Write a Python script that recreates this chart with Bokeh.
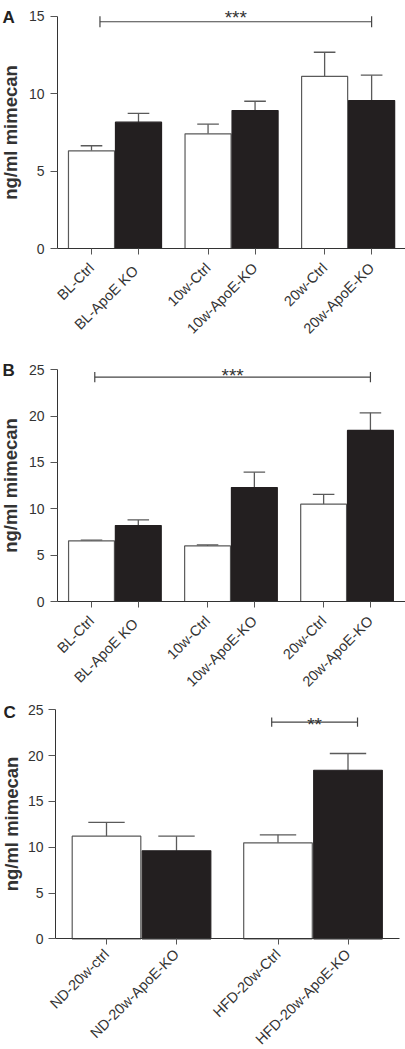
import math
from bokeh.plotting import figure
from bokeh.layouts import column
from bokeh.models import Range1d, FixedTicker, CustomJSTickFormatter, Label
from bokeh.embed import file_html
from bokeh.resources import INLINE

# ---------------- data ----------------
cats_A = ["BL-Ctrl", "BL-ApoE  KO", "10w-Ctrl", "10w-ApoE-KO", "20w-Ctrl", "20w-ApoE-KO"]
mean_A = [6.3, 8.15, 7.4, 8.9, 11.1, 9.55]
sem_A = [0.33, 0.57, 0.62, 0.6, 1.56, 1.63]

cats_B = ["BL-Ctrl", "BL-ApoE  KO", "10w-Ctrl", "10w-ApoE-KO", "20w-Ctrl", "20w-ApoE-KO"]
mean_B = [6.55, 8.2, 6.0, 12.3, 10.5, 18.45]
sem_B = [0.07, 0.6, 0.1, 1.65, 1.05, 1.9]

cats_C = ["ND-20w-ctrl", "ND-20w-ApoE-KO", "HFD-20w-Ctrl", "HFD-20w-ApoE-KO"]
mean_C = [11.2, 9.6, 10.48, 18.4]
sem_C = [1.5, 1.6, 0.87, 1.83]

yticks_A = [0, 5, 10, 15]
yticks_B = [0, 5, 10, 15, 20, 25]
yticks_C = [0, 5, 10, 15, 20, 25]

sig_A = "***"
sig_B = "***"
sig_C = "**"

FONT = "Liberation Sans"
TXT = "#333333"
DARK = "#231f20"
EDGE = "#5a5a5a"
W = 405


def panel(letter, cats, means, sems, yticks, height, ux, c0, axis_px, xend_px, uy,
          zero_px, step, cap, sig, sig_i, sig_j, sig_dx0, sig_dx1, sig_y, sig_cap,
          star_y, letter_dx, letter_dy, ylab_standoff, ytick_standoff, xlab_standoff):
    # ranges chosen so that the whole canvas is the plotting frame
    xs = -c0 / ux
    xe = (W - c0) / ux
    ys = -(height - zero_px) / uy
    ye = zero_px / uy
    yaxis_at = (axis_px - c0) / ux
    xaxis_end = (xend_px - c0) / ux

    p = figure(width=W, height=height, output_backend="svg", toolbar_location=None,
               x_range=Range1d(xs, xe), y_range=Range1d(ys, ye),
               min_border_left=0, min_border_right=0, min_border_top=0,
               min_border_bottom=0)
    p.outline_line_color = None
    p.xgrid.visible = False
    p.ygrid.visible = False
    p.background_fill_color = "white"

    xpos = [(i // 2) * step + (i % 2) for i in range(len(cats))]
    fills = ["white" if i % 2 == 0 else DARK for i in range(len(cats))]
    lines = [EDGE if i % 2 == 0 else DARK for i in range(len(cats))]
    tops = [m + s for m, s in zip(means, sems)]

    p.segment(x0=xpos, y0=means, x1=xpos, y1=tops, line_color=EDGE, line_width=1.3)
    p.segment(x0=[x - cap for x in xpos], y0=tops, x1=[x + cap for x in xpos], y1=tops,
              line_color=EDGE, line_width=1.3)
    p.vbar(x=xpos, width=0.98, top=means, bottom=0, fill_color=fills,
           line_color=lines, line_width=1.2)

    x0 = xpos[sig_i] + sig_dx0
    x1 = xpos[sig_j] + sig_dx1
    p.segment(x0=[x0], y0=[sig_y], x1=[x1], y1=[sig_y], line_color="#444444", line_width=1.2)
    p.segment(x0=[x0, x1], y0=[sig_y - sig_cap] * 2, x1=[x0, x1], y1=[sig_y + sig_cap] * 2,
              line_color="#444444", line_width=1.2)
    p.add_layout(Label(x=(x0 + x1) / 2, y=star_y, text=sig, text_align="center",
                       text_baseline="alphabetic", text_font_size="19px",
                       text_font=FONT, text_color=TXT))

    p.add_layout(Label(x=xs, y=ye, x_offset=letter_dx, y_offset=-letter_dy, text=letter,
                       text_align="left", text_baseline="top", text_font_size="17px",
                       text_font_style="bold", text_font=FONT, text_color="#222222"))

    ya = p.yaxis[0]
    ya.fixed_location = yaxis_at
    ya.ticker = FixedTicker(ticks=yticks)
    ya.bounds = (0, yticks[-1])
    ya.axis_label = "ng/ml mimecan"
    ya.axis_label_text_font = FONT
    ya.axis_label_text_font_style = "bold"
    ya.axis_label_text_font_size = "18.5px"
    ya.axis_label_text_color = TXT
    ya.axis_label_standoff = ylab_standoff
    ya.major_label_text_font = FONT
    ya.major_label_text_font_size = "14px"
    ya.major_label_text_color = TXT
    ya.major_label_standoff = ytick_standoff
    ya.major_tick_out = 7
    ya.major_tick_in = 0
    ya.minor_tick_out = 0
    ya.minor_tick_in = 0
    ya.axis_line_color = "#333333"
    ya.major_tick_line_color = "#555555"

    xa = p.xaxis[0]
    xa.fixed_location = 0
    xa.bounds = (yaxis_at, xaxis_end)
    xa.ticker = FixedTicker(ticks=xpos)
    xa.formatter = CustomJSTickFormatter(args=dict(labels=cats), code="return labels[index]")
    xa.major_label_orientation = math.pi / 4
    xa.major_label_text_font = FONT
    xa.major_label_text_font_size = "14.5px"
    xa.major_label_text_color = TXT
    xa.major_label_standoff = xlab_standoff
    xa.major_tick_out = 6
    xa.major_tick_in = 0
    xa.minor_tick_out = 0
    xa.minor_tick_in = 0
    xa.axis_line_color = "#333333"
    xa.major_tick_line_color = "#555555"
    return p


# geometry (canvas pixels): unit width, first bar centre, y-axis x, x-axis end,
# pixels per y unit, y=0 position
pA = panel("A", cats_A, mean_A, sem_A, yticks_A, 346, 47.0, 91.0, 57.0, 405.0, 15.5, 248.0,
           2.48, 0.23, sig_A, 0, 5, 0.18, 0.0, 14.63, 0.35, 14.9, 2, 7, 5, 6, 11)
pB = panel("B", cats_B, mean_B, sem_B, yticks_B, 346, 46.8, 91.0, 57.0, 405.0, 9.27, 255.0,
           2.48, 0.23, sig_B, 0, 5, 0.07, 0.0, 24.2, 0.55, 24.36, 2, 14, 5, 6, 11)
pC = panel("C", cats_C, mean_C, sem_C, yticks_C, 356, 70.0, 106.0, 55.0, 399.0, 9.16, 246.3,
           2.45, 0.26, sig_C, 2, 3, -0.09, 0.136, 23.65, 0.5, 23.4, 3, 10, 3, 5, 7)

layout = column(pA, pB, pC, spacing=0)
open("out.html", "w").write(file_html(layout, INLINE))
